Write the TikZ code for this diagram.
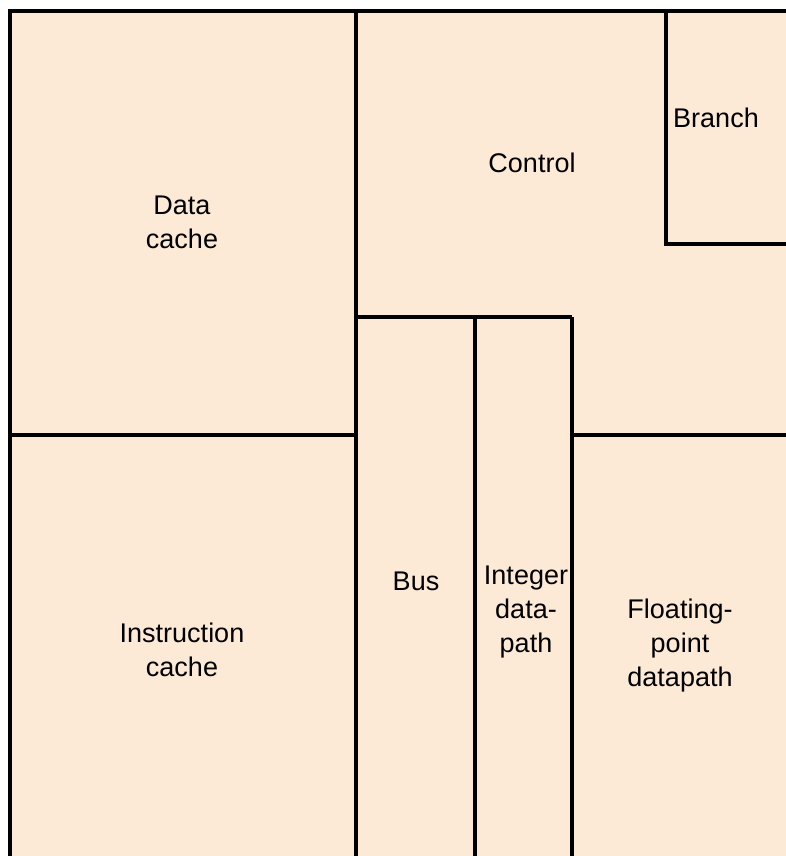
\documentclass[tikz,border=0pt]{standalone}
\usepackage{fontspec}
\setmainfont{Liberation Sans}
\definecolor{diefill}{RGB}{252,233,214}

\begin{document}
\begin{tikzpicture}[x = 1pt, y = -1pt, line width = 4pt,
	unit/.style = {align = center, inner sep = 0pt, font = \fontsize{27}{34}\selectfont}]

	\useasboundingbox (0, 0) rectangle (786, 856);

	% Die background

	\fill [diefill] (10, 11) rectangle (786, 856);
	\draw (10, 856) -- (10, 11) -- (786, 11);

	% Block boundaries

	\draw (356, 11) -- (356, 856);
	\draw (10, 435) -- (356, 435);
	\draw (356, 317) -- (572, 317);
	\draw (475, 317) -- (475, 856);
	\draw (572, 317) -- (572, 856);
	\draw (572, 435) -- (786, 435);
	\draw (666, 11) -- (666, 244) -- (786, 244);

	% Block names

	\node [unit] (data)    at (182, 222) {Data\\cache};
	\node [unit] (control) at (532, 163) {Control};
	\node [unit] (branch)  at (716, 118) {Branch};
	\node [unit] (instr)   at (182, 650) {Instruction\\cache};
	\node [unit] (bus)     at (416, 581) {Bus};
	\node [unit] (intpath) at (526, 612) {Integer\\data-\\path};
	\node [unit] (fppath)  at (680, 646) {Floating-\\point\\datapath};

\end{tikzpicture}
\end{document}
